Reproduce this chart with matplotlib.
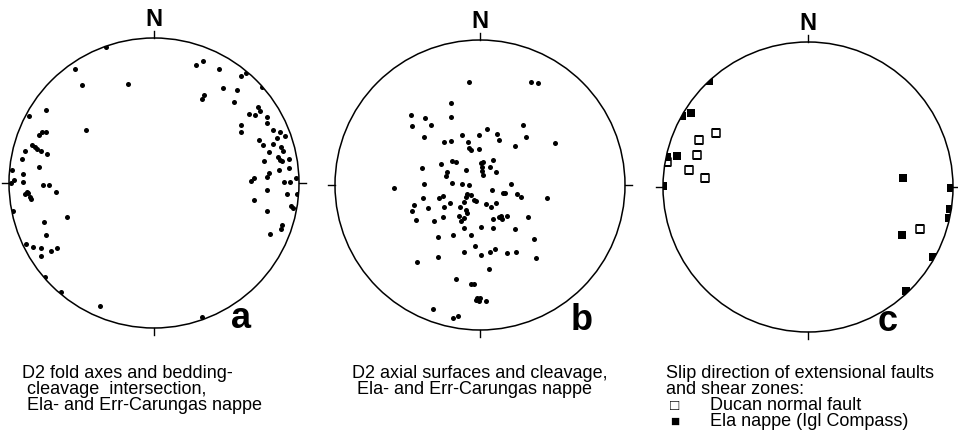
import matplotlib
matplotlib.use('Agg')
import matplotlib.pyplot as plt
from matplotlib.patches import Circle
import numpy as np

a_points = [
    (-0.331, 0.940), (-0.545, 0.786), (-0.499, 0.674), (-0.181, 0.683), (-0.469, 0.368),
    (-0.745, 0.506), (-0.864, 0.460), (-0.791, 0.331), (-0.772, 0.350), (-0.747, 0.352),
    (-0.841, 0.262), (-0.823, 0.250), (-0.805, 0.234), (-0.777, 0.223), (-0.740, 0.200),
    (-0.890, 0.223), (-0.908, 0.163), (-0.793, 0.113), (-0.977, 0.090), (-0.901, 0.062),
    (-0.966, 0.021), (-0.986, -0.002), (-0.901, 0.005), (-0.763, -0.016), (-0.726, -0.016),
    (-0.676, -0.060), (-0.878, -0.060), (-0.887, -0.078), (-0.869, -0.071), (-0.855, -0.094),
    (-0.850, -0.113), (-0.970, -0.193), (-0.600, -0.237), (-0.757, -0.267), (-0.745, -0.356),
    (-0.880, -0.423), (-0.837, -0.439), (-0.782, -0.448), (-0.779, -0.503), (-0.710, -0.471),
    (-0.671, -0.448), (-0.752, -0.646), (-0.641, -0.754), (-0.372, -0.848), (0.331, -0.926),
    (0.292, 0.812), (0.340, 0.843), (0.450, 0.786), (0.598, 0.736), (0.632, 0.761),
    (0.476, 0.657), (0.572, 0.641), (0.747, 0.660), (0.345, 0.607), (0.329, 0.579),
    (0.554, 0.561), (0.717, 0.522), (0.731, 0.497), (0.653, 0.478), (0.699, 0.469),
    (0.781, 0.455), (0.781, 0.414), (0.602, 0.400), (0.602, 0.350), (0.821, 0.366),
    (0.869, 0.350), (0.901, 0.326), (0.846, 0.308), (0.726, 0.294), (0.750, 0.262),
    (0.821, 0.269), (0.874, 0.250), (0.892, 0.221), (0.795, 0.212), (0.855, 0.181),
    (0.869, 0.159), (0.885, 0.152), (0.933, 0.166), (0.757, 0.150), (0.860, 0.092),
    (0.933, 0.101), (0.793, 0.071), (0.781, 0.043), (0.690, 0.037), (0.671, 0.014),
    (0.897, 0.005), (0.938, 0.009), (0.977, 0.032), (0.777, -0.046), (0.915, -0.078),
    (0.988, -0.078), (0.690, -0.115), (0.777, -0.191), (0.943, -0.157), (0.961, -0.172),
    (0.885, -0.288), (0.878, -0.317), (0.800, -0.352),
]

b_points = [
    (-0.074, 0.712), (0.352, 0.712), (0.402, 0.703), (-0.202, 0.566), (-0.478, 0.483),
    (-0.377, 0.460), (-0.202, 0.467), (-0.467, 0.405), (-0.338, 0.412), (-0.386, 0.331),
    (0.294, 0.416), (0.046, 0.386), (-0.124, 0.345), (-0.005, 0.345), (0.117, 0.352),
    (0.133, 0.310), (0.319, 0.329), (0.515, 0.292), (0.239, 0.269), (-0.250, 0.297),
    (-0.202, 0.303), (-0.085, 0.294), (-0.074, 0.253), (-0.062, 0.241), (-0.005, 0.246),
    (-0.269, 0.143), (-0.191, 0.166), (-0.166, 0.157), (-0.398, 0.119), (-0.094, 0.101),
    (0.007, 0.150), (0.023, 0.157), (0.014, 0.124), (0.017, 0.097), (0.021, 0.069),
    (0.092, 0.174), (0.069, 0.126), (0.108, 0.090), (-0.230, 0.090), (-0.234, 0.064),
    (-0.388, 0.007), (-0.195, 0.014), (-0.124, 0.007), (-0.078, 0.000), (0.212, 0.005),
    (-0.591, -0.019), (0.083, -0.037), (0.161, -0.057), (0.170, -0.057), (0.253, -0.060),
    (0.283, -0.085), (0.460, -0.088), (-0.391, -0.092), (-0.281, -0.090), (-0.253, -0.076),
    (-0.453, -0.136), (-0.471, -0.177), (-0.361, -0.161), (-0.246, -0.154), (-0.207, -0.122),
    (-0.108, -0.119), (-0.099, -0.081), (-0.090, -0.060), (-0.062, -0.069), (-0.043, -0.106),
    (-0.030, -0.110), (-0.140, -0.154), (-0.097, -0.174), (-0.088, -0.193), (0.041, -0.129),
    (0.074, -0.154), (0.112, -0.122), (0.131, -0.221), (0.145, -0.212), (0.150, -0.237),
    (0.186, -0.214), (0.088, -0.234), (0.331, -0.221), (-0.441, -0.243), (-0.317, -0.250),
    (-0.253, -0.219), (-0.145, -0.214), (-0.134, -0.248), (-0.110, -0.231), (-0.110, -0.299),
    (0.009, -0.292), (0.088, -0.297), (0.241, -0.301), (0.370, -0.374), (-0.290, -0.361),
    (-0.184, -0.347), (-0.064, -0.347), (-0.032, -0.421), (-0.108, -0.460), (0.005, -0.485),
    (0.069, -0.460), (0.103, -0.443), (0.184, -0.471), (0.248, -0.462), (0.386, -0.501),
    (-0.290, -0.499), (-0.434, -0.531), (0.062, -0.581), (-0.166, -0.650), (-0.060, -0.681),
    (-0.043, -0.686), (-0.030, -0.793), (-0.019, -0.781), (-0.007, -0.800), (0.000, -0.777),
    (0.043, -0.802), (-0.324, -0.857), (-0.186, -0.915), (-0.152, -0.903),
]

# net c: Ducan normal fault (open) and Ela nappe, Igl Compass (filled)
c_ducan = [
    (-0.634, 0.374), (-0.752, 0.324), (-0.768, 0.219), (-0.974, 0.174),
    (-0.819, 0.119), (-0.710, 0.060), (0.772, -0.288),
]
c_ela = [
    (-0.683, 0.731), (-0.871, 0.492), (-0.807, 0.512), (-0.974, 0.209), (-0.906, 0.214),
    (-0.998, 0.007), (0.653, 0.060), (0.650, -0.333), (0.984, -0.005), (0.980, -0.150),
    (0.972, -0.214), (0.860, -0.481), (0.676, -0.715),
]

captions_a = ["D2 fold axes and bedding-", " cleavage  intersection,", " Ela- and Err-Carungas nappe"]
captions_b = ["D2 axial surfaces and cleavage,", " Ela- and Err-Carungas nappe"]
captions_c = ["Slip direction of extensional faults", "and shear zones:"]
legend_c = ["Ducan normal fault", "Ela nappe (Igl Compass)"]

plt.rcParams['font.family'] = ['Liberation Sans', 'DejaVu Sans']

W, H = 958, 434
R = 145
PAD = 1.12
fig = plt.figure(figsize=(W / 100, H / 100), dpi=100)
fig.patch.set_facecolor('white')


def net(cx, cy):
    half = R * PAD
    ax = fig.add_axes([(cx - half) / W, (H - cy - half) / H, 2 * half / W, 2 * half / H])
    ax.set_xlim(-PAD, PAD)
    ax.set_ylim(-PAD, PAD)
    ax.set_aspect('equal')
    ax.axis('off')
    rim = Circle((0, 0), 1, fill=False, lw=1.1, color='black', zorder=3)
    ax.add_patch(rim)
    t = 0.045
    ax.plot([0, 0], [1, 1 + t], color='black', lw=1.0)
    ax.plot([0, 0], [-1, -1 - t], color='black', lw=1.0)
    ax.plot([1, 1 + t], [0, 0], color='black', lw=1.0)
    ax.plot([-1, -1 - t], [0, 0], color='black', lw=1.0)
    ax.text(0, 1.13, 'N', ha='center', va='center', fontsize=17, fontweight='bold')
    return ax, rim


def dots(ax, rim, pts, **kw):
    p = np.array(pts)
    sc = ax.scatter(p[:, 0], p[:, 1], **kw)
    sc.set_clip_path(rim)
    return sc


ax_a, rim_a = net(154, 183)
dots(ax_a, rim_a, a_points, s=13, color='black', linewidths=0, zorder=2)
ax_a.text(0.60, -1.0, 'a', ha='center', va='baseline', fontsize=26, fontweight='bold')

ax_b, rim_b = net(480, 185)
dots(ax_b, rim_b, b_points, s=13, color='black', linewidths=0, zorder=2)
ax_b.text(0.70, -1.0, 'b', ha='center', va='baseline', fontsize=26, fontweight='bold')

ax_c, rim_c = net(808, 187)
dots(ax_c, rim_c, c_ducan, s=28, marker='s', facecolor='white', edgecolor='black',
     linewidths=1.1, zorder=2)
dots(ax_c, rim_c, c_ela, s=30, marker='s', color='black', linewidths=0, zorder=2)
ax_c.text(0.55, -0.99, 'c', ha='center', va='baseline', fontsize=26, fontweight='bold')

# captions
FS = 13
for i, line in enumerate(captions_a):
    fig.text(22 / W, 1 - (374 + 16 * i) / H, line, fontsize=FS, va='center')
for i, line in enumerate(captions_b):
    fig.text(352 / W, 1 - (374 + 16 * i) / H, line, fontsize=FS, va='center')
for i, line in enumerate(captions_c):
    fig.text(666 / W, 1 - (374 + 16 * i) / H, line, fontsize=FS, va='center')

fig.text(675 / W, 1 - 406 / H, u'\u25a1', fontsize=11, va='center', ha='center')
fig.text(675 / W, 1 - 422 / H, u'\u25a0', fontsize=11, va='center', ha='center')
for i, line in enumerate(legend_c):
    fig.text(710 / W, 1 - (406 + 16 * i) / H, line, fontsize=FS, va='center')

plt.savefig('out.png', dpi=100)
plt.close()
